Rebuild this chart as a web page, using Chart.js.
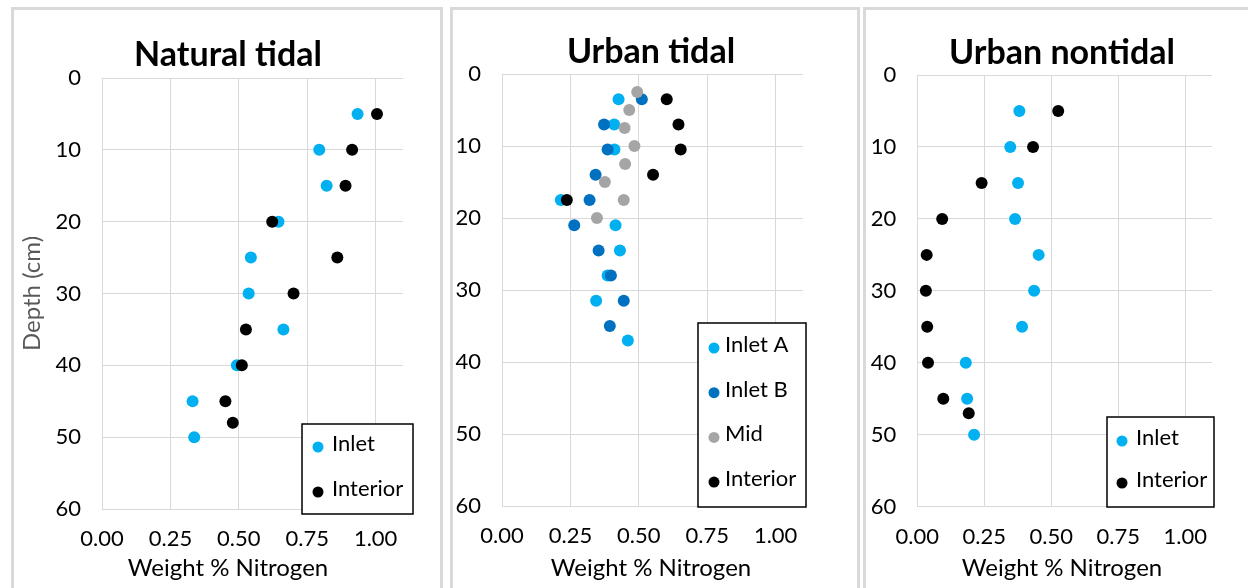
<!DOCTYPE html>
<html>
<head>
<meta charset="utf-8">
<title>Weight % Nitrogen by depth</title>
<script src="https://cdn.jsdelivr.net/npm/chart.js@4.4.1/dist/chart.umd.min.js"></script>
<style>
    body { margin: 0; width: 1248px; height: 588px; overflow: hidden; background: #fff; }
    .panel { position: absolute; top: 7px; height: 600px; border: 3px solid #d9d9d9; box-sizing: border-box; }
    canvas { position: absolute; top: 10px; }
</style>
</head>
<body>
<div class="panel" style="left:11px;width:432px"></div>
<div class="panel" style="left:450px;width:410px"></div>
<div class="panel" style="left:863px;width:400px"></div>
<canvas id="naturalTidal" width="428" height="578" style="left:14px"></canvas>
<canvas id="urbanTidal" width="396" height="578" style="left:453px"></canvas>
<canvas id="urbanNontidal" width="392" height="578" style="left:866px"></canvas>
<script>
// Natural tidal
const natDepthInlet = [5, 10, 15, 20, 25, 30, 35, 40, 45, 50];
const natInlet = [0.934, 0.794, 0.821, 0.645, 0.544, 0.536, 0.663, 0.493, 0.331, 0.337];
const natDepthInterior = [5, 10, 15, 20, 25, 30, 35, 40, 45, 48];
const natInterior = [1.005, 0.914, 0.890, 0.622, 0.860, 0.700, 0.526, 0.511, 0.451, 0.478];

// Urban tidal
const utDepthA = [3.5, 7, 10.5, 17.5, 21, 24.5, 28, 31.5, 37];
const utInletA = [0.426, 0.410, 0.411, 0.215, 0.415, 0.431, 0.386, 0.344, 0.460];
const utDepthB = [3.5, 7, 10.5, 14, 17.5, 21, 24.5, 28, 31.5, 35];
const utInletB = [0.511, 0.373, 0.386, 0.342, 0.320, 0.264, 0.353, 0.398, 0.445, 0.394];
const utDepthMid = [2.5, 5, 7.5, 10, 12.5, 15, 17.5, 20];
const utMid = [0.494, 0.465, 0.448, 0.484, 0.450, 0.376, 0.445, 0.347];
const utDepthInterior = [3.5, 7, 10.5, 14, 17.5];
const utInterior = [0.602, 0.645, 0.653, 0.552, 0.237];

// Urban nontidal
const unDepthInlet = [5, 10, 15, 20, 25, 30, 35, 40, 45, 50];
const unInlet = [0.381, 0.347, 0.376, 0.365, 0.453, 0.436, 0.391, 0.181, 0.186, 0.212];
const unDepthInterior = [5, 10, 15, 20, 25, 30, 35, 40, 45, 47];
const unInterior = [0.526, 0.432, 0.240, 0.093, 0.035, 0.032, 0.037, 0.040, 0.097, 0.192];

// Axis ticks
const depthTicks = [0, 10, 20, 30, 40, 50, 60];
const nitrogenTicks = [0, 0.25, 0.5, 0.75, 1.0];

const FONT = "Lato, 'Open Sans', sans-serif";
const GRID = "#d9d9d9";

function toPoints(xs, ys) {
    return xs.map((x, i) => ({ x: x, y: ys[i] }));
}

function series(label, color, xs, ys, order) {
    return {
        label: label,
        data: toPoints(xs, ys),
        backgroundColor: color,
        borderWidth: 0,
        pointRadius: 6,
        pointHoverRadius: 6,
        xAxisID: "x",
        yAxisID: "y",
        order: order
    };
}

// Boxed legend drawn inside the plot, like the Excel one
const boxLegend = {
    id: "boxLegend",
    afterDraw(chart, args, opts) {
        const ctx = chart.ctx;
        ctx.save();
        ctx.fillStyle = "#fff";
        ctx.fillRect(opts.x, opts.y, opts.w, opts.h);
        ctx.strokeStyle = "#000";
        ctx.lineWidth = 1.5;
        ctx.strokeRect(opts.x, opts.y, opts.w, opts.h);
        ctx.font = "22px " + FONT;
        ctx.textBaseline = "middle";
        chart.data.datasets.forEach((ds, i) => {
            const ty = opts.y + opts.first + i * opts.gap;
            ctx.beginPath();
            ctx.fillStyle = ds.backgroundColor;
            ctx.arc(opts.x + opts.markX, ty + 3, 5.5, 0, Math.PI * 2);
            ctx.fill();
            ctx.fillStyle = "#000";
            ctx.fillText(ds.label, opts.x + opts.textX, ty);
        });
        ctx.restore();
    }
};

function makeChart(id, datasets, cfg) {
    return new Chart(document.getElementById(id), {
        type: "scatter",
        data: { datasets: datasets },
        options: {
            responsive: false,
            animation: false,
            layout: { padding: 0 },
            plugins: {
                legend: { display: false },
                tooltip: { enabled: false },
                title: {
                    display: true,
                    text: cfg.title,
                    color: "#000",
                    font: { family: FONT, size: 34, weight: "bold" },
                    padding: { top: cfg.titleTop, bottom: cfg.titleBottom }
                },
                subtitle: {
                    display: true,
                    position: "bottom",
                    text: "Weight % Nitrogen",
                    color: "#000",
                    font: { family: FONT, size: 24 },
                    padding: { top: 0, bottom: 5.6 }
                },
                boxLegend: cfg.legend
            },
            scales: {
                x: {
                    type: "linear",
                    min: 0,
                    max: 1.1,
                    afterBuildTicks: s => { s.ticks = nitrogenTicks.map(v => ({ value: v })); },
                    afterFit: s => { s.height = cfg.xHeight; },
                    ticks: {
                        padding: 17,
                        color: "#000",
                        font: { family: FONT, size: 22 },
                        callback: v => v.toFixed(2)
                    },
                    grid: { color: GRID, drawTicks: false },
                    border: { color: GRID }
                },
                y: {
                    type: "linear",
                    min: 0,
                    max: 60,
                    reverse: true,
                    afterBuildTicks: s => { s.ticks = depthTicks.map(v => ({ value: v })); },
                    afterFit: s => { s.width = cfg.yWidth; },
                    ticks: {
                        padding: 21,
                        color: "#000",
                        font: { family: FONT, size: 22 }
                    },
                    grid: { color: GRID, drawTicks: false },
                    border: { color: GRID },
                    title: {
                        display: !!cfg.yTitle,
                        text: cfg.yTitle || "",
                        color: "#595959",
                        font: { family: FONT, size: 24 },
                        padding: { top: 3.6, bottom: 0 }
                    }
                },
                // empty axis on the right, keeps the titles centred on the panel
                pad: {
                    type: "linear",
                    position: "right",
                    display: true,
                    grid: { display: false },
                    border: { display: false },
                    ticks: { display: false },
                    afterFit: s => { s.width = cfg.padRight; }
                }
            }
        },
        plugins: [boxLegend]
    });
}

document.addEventListener("DOMContentLoaded", function () {
    makeChart("naturalTidal", [
        series("Inlet", "#00b0f0", natInlet, natDepthInlet, 1),
        series("Interior", "#000000", natInterior, natDepthInterior, 0)
    ], {
        title: "Natural tidal", yTitle: "Depth (cm)",
        titleTop: 24.6, titleBottom: 2.6, xHeight: 44.6, yWidth: 88, padRight: 39,
        legend: { x: 288, y: 414, w: 111, h: 90, first: 20, gap: 45, markX: 16, textX: 30 }
    });

    makeChart("urbanTidal", [
        series("Inlet A", "#00b0f0", utInletA, utDepthA, 3),
        series("Inlet B", "#0070c0", utInletB, utDepthB, 2),
        series("Mid", "#a5a5a5", utMid, utDepthMid, 1),
        series("Interior", "#000000", utInterior, utDepthInterior, 0)
    ], {
        title: "Urban tidal",
        titleTop: 21.6, titleBottom: 1.6, xHeight: 47.6, yWidth: 49, padRight: 46,
        legend: { x: 245, y: 313, w: 108, h: 184, first: 22, gap: 44.7, markX: 16, textX: 27 }
    });

    makeChart("urbanNontidal", [
        series("Inlet", "#00b0f0", unInlet, unDepthInlet, 1),
        series("Interior", "#000000", unInterior, unDepthInterior, 0)
    ], {
        title: "Urban nontidal",
        titleTop: 22.6, titleBottom: 1.6, xHeight: 46.9, yWidth: 51.3, padRight: 46,
        legend: { x: 241, y: 407, w: 107, h: 90, first: 21, gap: 42, markX: 15, textX: 29 }
    });
});
</script>
</body>
</html>
